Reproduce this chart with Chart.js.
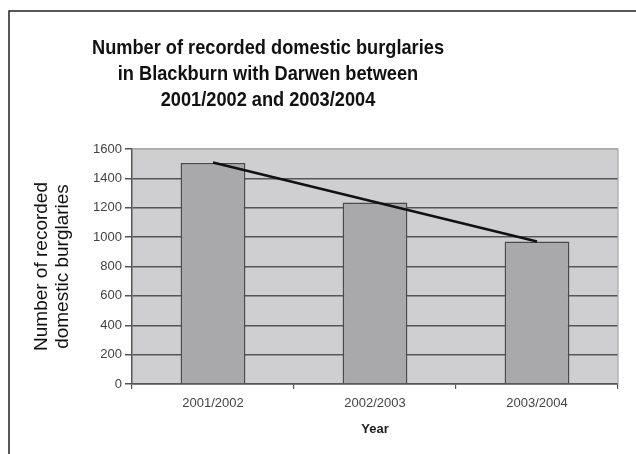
<!DOCTYPE html>
<html>
<head>
<meta charset="utf-8">
<script src="https://cdn.jsdelivr.net/npm/chart.js@4/dist/chart.umd.min.js"></script>
<style>
  html, body { margin: 0; padding: 0; background: #ffffff; }
  #wrap { width: 636px; height: 454px; position: relative; }
</style>
</head>
<body>
<div id="wrap"><canvas id="c" width="636" height="454"></canvas></div>
<script>
// ---- data ----
const categories = ['2001/2002', '2002/2003', '2003/2004'];
const burglaries = [1505, 1235, 970];
const trendValues = [1508, 1239, 970];
const yTickValues = [0, 200, 400, 600, 800, 1000, 1200, 1400, 1600];
const titleLines = ['Number of recorded domestic burglaries', 'in Blackburn with Darwen between', '2001/2002 and 2003/2004'];
const yAxisTitle = ['Number of recorded', 'domestic burglaries'];
const xAxisTitle = 'Year';

const framePlugin = {
  id: 'framePlugin',
  beforeDraw(chart) {
    const ctx = chart.ctx;
    const a = chart.chartArea;
    ctx.save();
    ctx.strokeStyle = '#222';
    ctx.lineWidth = 1.5;
    ctx.beginPath();
    ctx.moveTo(9, 460);
    ctx.lineTo(9, 11);
    ctx.lineTo(640, 11);
    ctx.stroke();
    ctx.fillStyle = '#cfcfd1';
    ctx.fillRect(a.left, a.top, a.right - a.left, a.bottom - a.top);
    ctx.restore();
  },
  afterDraw(chart) {
    const ctx = chart.ctx;
    const a = chart.chartArea;
    ctx.save();
    ctx.strokeStyle = '#a8a8a8';
    ctx.lineWidth = 1.2;
    ctx.beginPath();
    ctx.moveTo(a.left, a.top);
    ctx.lineTo(a.right, a.top);
    ctx.lineTo(a.right, a.bottom);
    ctx.stroke();
    // title
    ctx.fillStyle = '#111';
    ctx.textAlign = 'center';
    ctx.textBaseline = 'alphabetic';
    ctx.font = 'bold 21px "Liberation Sans", Arial, sans-serif';
    const w0 = ctx.measureText(titleLines[0]).width;
    const sx = 352 / w0;
    const cx = 268;
    const baselines = [54, 80, 106];
    titleLines.forEach((t, i) => {
      ctx.save();
      ctx.translate(cx, baselines[i]);
      ctx.scale(sx, 1);
      ctx.fillText(t, 0, 0);
      ctx.restore();
    });
    ctx.restore();
  }
};

new Chart(document.getElementById('c'), {
  data: {
    labels: categories,
    datasets: [
      {
        type: 'line',
        label: 'Trend',
        data: trendValues,
        borderColor: '#111',
        borderWidth: 2.5,
        pointRadius: 0,
        fill: false,
        tension: 0,
        order: 0
      },
      {
        type: 'bar',
        label: 'Recorded domestic burglaries',
        data: burglaries,
        backgroundColor: '#a9a9ab',
        borderColor: '#4a4a4a',
        borderWidth: 1.5,
        categoryPercentage: 1.0,
        barPercentage: 0.4,
        order: 1
      }
    ]
  },
  options: {
    responsive: false,
    animation: false,
    devicePixelRatio: 1,
    layout: { padding: { left: 10, top: 149, right: 18, bottom: 0 } },
    plugins: {
      legend: { display: false },
      tooltip: { enabled: false },
      title: { display: false }
    },
    scales: {
      x: {
        offset: true,
        grid: {
          display: true,
          offset: true,
          drawOnChartArea: false,
          drawTicks: true,
          tickLength: 5,
          color: '#555',
          lineWidth: 1.2
        },
        border: { display: true, color: '#555', width: 1.5 },
        ticks: {
          color: '#444',
          padding: 7,
          font: { family: '"Liberation Sans", Arial, sans-serif', size: 13 }
        },
        title: {
          display: true,
          text: xAxisTitle,
          color: '#222',
          padding: { top: 0, bottom: 17 },
          font: { family: '"Liberation Sans", Arial, sans-serif', size: 13, weight: 'bold' }
        },
        afterFit(scale) { scale.height = 70; }
      },
      y: {
        min: 0,
        max: 1600,
        afterBuildTicks(scale) { scale.ticks = yTickValues.map(v => ({ value: v })); },
        grid: {
          drawTicks: true,
          tickLength: 7,
          color: (c) => (c.tick && c.tick.value === 1600) ? '#a8a8a8' : '#555',
          tickColor: '#555',
          lineWidth: 1.5
        },
        border: { display: true, color: '#555', width: 1.5 },
        ticks: {
          color: '#444',
          padding: 3,
          callback: (v) => String(v),
          font: { family: '"Liberation Sans", Arial, sans-serif', size: 13 }
        },
        title: {
          display: true,
          text: yAxisTitle,
          color: '#111',
          padding: { top: 21, bottom: 0 },
          font: { family: '"Liberation Sans", Arial, sans-serif', size: 19, lineHeight: 1.1 }
        },
        afterFit(scale) { scale.width = 122; }
      }
    }
  },
  plugins: [framePlugin]
});
</script>
</body>
</html>
